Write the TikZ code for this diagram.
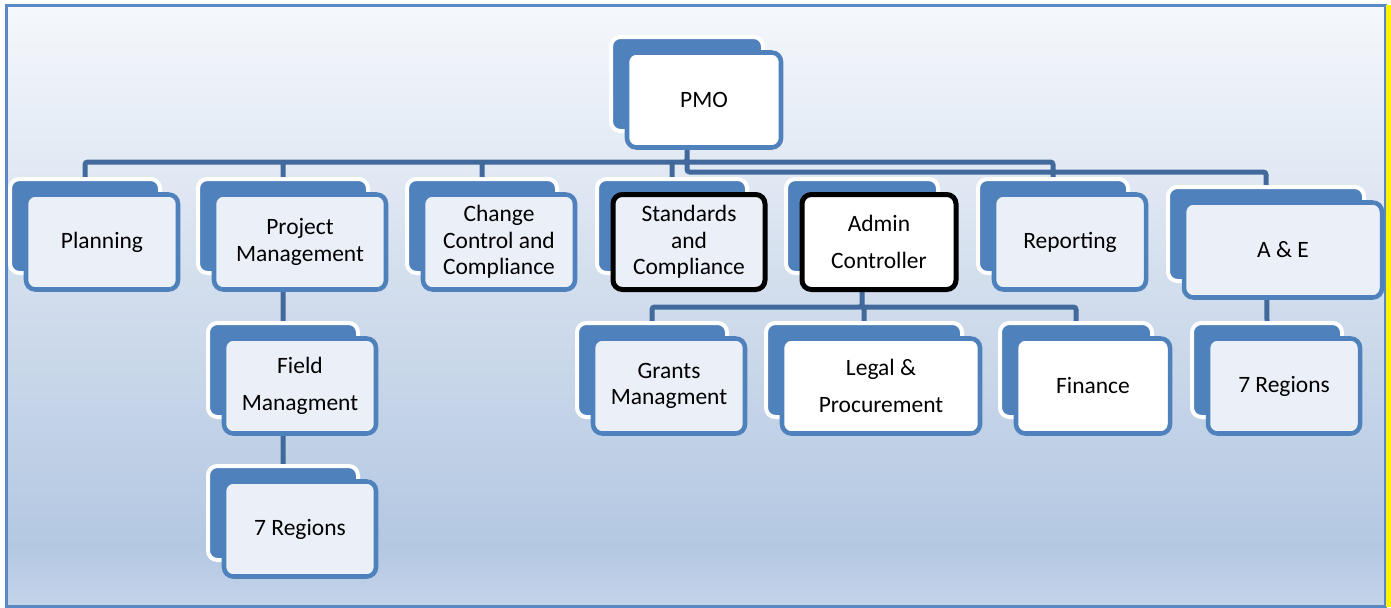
\documentclass[tikz,border=0pt]{standalone}
\usepackage{fontspec}
\setmainfont{Carlito}
\usepackage{tikz}
\usetikzlibrary{%
  positioning,%
  calc%
}
\definecolor{boxblue}{RGB}{79,129,189}
\definecolor{linkblue}{RGB}{65,105,156}
\definecolor{boxlight}{RGB}{235,240,248}
\definecolor{frameblue}{RGB}{91,137,198}
\definecolor{paneltop}{RGB}{245,248,252}
\definecolor{panelmid}{RGB}{208,220,236}
\definecolor{panellow}{RGB}{180,200,226}
\definecolor{panelbot}{RGB}{196,212,234}
\pgfdeclareverticalshading{panelshade}{100bp}{color(0bp)=(panelbot); color(25bp)=(panelbot); color(30bp)=(panellow); color(50bp)=(panelmid); color(75bp)=(paneltop); color(100bp)=(paneltop)}
\pgfdeclarelayer{backdrop}
\pgfdeclarelayer{wires}
\pgfsetlayers{backdrop,wires,main}
\newcommand{\orgfont}{\fontsize{17.6}{20}\selectfont}
\newcommand{\orgloose}{\fontsize{17.6}{27.5}\selectfont}
\newcommand{\orgunit}[5][frontbox]{%
  \node[backbox, minimum width=#4*0.75pt] (#2-b) at (#3) {};
  \node[#1, minimum width=(#4+2)*0.75pt] (#2) at ($(#3)+(17,16)$) {#5};
}

\begin{document}
\begin{tikzpicture}[x=0.75pt, y=-0.75pt,
  backbox/.style={draw=white, line width=3pt, fill=boxblue, rounded corners=7pt, minimum height=70.5pt, inner sep=0pt},
  frontbox/.style={draw=boxblue, line width=3.4pt, fill=boxlight, rounded corners=7pt, minimum height=71.25pt, inner sep=0pt, align=center, font=\orgfont},
  whitebox/.style={frontbox, fill=white},
  keybox/.style={frontbox, draw=black, line width=3.75pt},
  keywhite/.style={keybox, fill=white},
  loose/.style={font=\orgloose},
  link/.style={draw=linkblue, line width=3.75pt, rounded corners=2pt}]
\useasboundingbox (0,0) rectangle (1391,607);
\begin{pgfonlayer}{backdrop}
\shade[shading=panelshade] (6,5) rectangle (1385,606);
\draw[frameblue, line width=2.25pt] (6,5) rectangle (1385,606);
\fill[yellow] (1386,5) rectangle (1391,607);
\end{pgfonlayer}

\orgunit[whitebox]{PMO}{687,84}{152}{PMO}
\orgunit{PL}{85,226}{150}{Planning}
\orgunit{PM}{283,226}{170}{Project\\Management}
\orgunit{CC}{482,226}{150}{Change\\Control and\\Compliance}
\orgunit[keybox]{SC}{672,226}{150}{Standards\\and\\Compliance}
\orgunit[keywhite,loose]{AC}{862,226}{152}{Admin\\Controller}
\orgunit{RP}{1053,226}{150}{Reporting}
\orgunit{AE}{1266,234}{196}{A \& E}
\orgunit[frontbox,loose]{FM}{283,370}{150}{Field\\Managment}
\orgunit{R1}{283,513}{150}{7 Regions}
\orgunit{GM}{652,370}{150}{Grants\\Managment}
\orgunit[whitebox,loose]{LP}{864,370}{196}{Legal \&\\Procurement}
\orgunit[whitebox]{FN}{1076,370}{152}{Finance}
\orgunit{R2}{1267,370}{150}{7 Regions}

\coordinate (bus1) at (687,162);
\coordinate (bus2) at (687,172);
\coordinate (bus3) at (862,307);

\begin{pgfonlayer}{wires}
\draw[link]
	(PMO-b) -- (bus1) -| (PL-b.north)
	(bus1) -| (PM-b.north)
	(bus1) -| (CC-b.north)
	(bus1) -| (SC-b.north)
	(bus1) -| (RP-b.north)
	(PMO-b) -- (bus2) -| (AE-b.north)
	(PM-b) -- (FM-b.north)
	(FM-b) -- (R1-b.north)
	(AC-b) -- (bus3) -| (GM-b.north)
	(bus3) -| (LP-b.north)
	(bus3) -| (FN-b.north)
	(AE-b) -- (R2-b.north)
;
\end{pgfonlayer}
\end{tikzpicture}
\end{document}
